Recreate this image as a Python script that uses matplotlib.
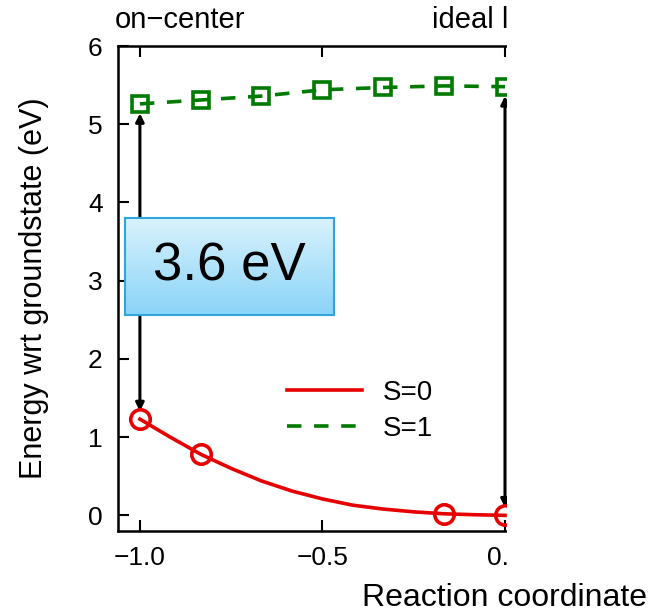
import matplotlib
matplotlib.use("Agg")
import matplotlib.pyplot as plt
import numpy as np
from matplotlib.patches import Rectangle

plt.rcParams['font.family'] = ['Liberation Sans', 'DejaVu Sans']

# S=0 curve (markers only at computed points)
s0_coord = [-1.0, -0.917, -0.833, -0.75, -0.667, -0.583, -0.5,
            -0.417, -0.333, -0.25, -0.167, -0.083, 0.0]
s0_energy = [1.23, 1.00, 0.78, 0.60, 0.44, 0.31, 0.21,
             0.13, 0.08, 0.045, 0.02, 0.008, 0.0]
s0_marked = [0, 2, 10, 12]
# S=1
s1_coord = [-1.0, -0.833, -0.667, -0.5, -0.333, -0.167, 0.0]
s1_energy = [5.26, 5.31, 5.36, 5.44, 5.47, 5.49, 5.48]

# vertical excitation arrows: (x, low, high)
arrows = [(-1.0, 1.23, 5.26), (0.0, 0.0, 5.48)]

W, H = 652, 613
fig = plt.figure(figsize=(W / 100, H / 100), dpi=100)
ax = fig.add_axes([118 / W, (H - 531) / H, 774 / W, 485 / H])

for x, lo, hi in arrows:
    ax.annotate('', xy=(x, hi - 0.12), xytext=(x, lo + 0.1),
                arrowprops=dict(arrowstyle='<|-|>', color='black', lw=2.2,
                                mutation_scale=12, shrinkA=0, shrinkB=0),
                zorder=2)

red = '#e60000'
green = '#007a00'
l0, = ax.plot(s0_coord, s0_energy, '-', color=red, lw=2.6, label='S=0', zorder=3)
ax.plot([s0_coord[i] for i in s0_marked], [s0_energy[i] for i in s0_marked], 'o',
        ms=14, mfc='none', mec=red, mew=2.6, zorder=4)
l1, = ax.plot(s1_coord, s1_energy, '--', color=green, lw=2.6, dashes=(4, 3.5),
              marker='s', ms=11, mfc='none', mec=green, mew=2.6, label='S=1', zorder=4)

ax.set_xlim(-1.06, 1.06)
ax.set_ylim(-0.2, 6)
ax.set_xticks([-1.0, -0.5, 0.0])
ax.set_xticklabels(['\u22121.0', '\u22120.5', '0.0'])
ax.set_yticks(range(0, 7))
ax.tick_params(direction='in', length=8, width=1.5, top=True, right=True,
               labelsize=19, pad=11)
for sp in ax.spines.values():
    sp.set_linewidth(1.8)

ax.set_ylabel('Energy wrt groundstate (eV)', fontsize=22, labelpad=28)

leg = ax.legend(handles=[l0, l1],
                loc='upper left', bbox_to_anchor=(262 / W, (H - 355) / H),
                bbox_transform=fig.transFigure, frameon=False, fontsize=20,
                handlelength=2.7, handletextpad=0.75, labelspacing=0.35)
leg.legend_handles[1].set_marker('')

fig.text(115 / W, (H - 20) / H, 'on\u2212center', fontsize=21, va='center', ha='left')
fig.text(432 / W, (H - 20) / H, 'ideal lattice', fontsize=21, va='center', ha='left')

# the picture is cut off on the right
fig.patches.append(Rectangle((507 / W, (H - 572) / H), 1, 1, transform=fig.transFigure,
                             facecolor='white', edgecolor='none', zorder=10))

fig.text(505 / W, (H - 598) / H, 'Reaction coordinate', fontsize=23,
         ha='center', va='center', zorder=11)

# 3.6 eV label box with gradient
bx = fig.add_axes([125 / W, (H - 315) / H, 209 / W, 97 / H], zorder=5)
grad = np.linspace(0, 1, 100).reshape(-1, 1)
top_c = np.array([0.85, 0.95, 0.99])
bot_c = np.array([0.54, 0.83, 0.97])
img = top_c[None, None, :] * (1 - grad[:, :, None]) + bot_c[None, None, :] * grad[:, :, None]
bx.imshow(img, aspect='auto', extent=[0, 1, 0, 1])
bx.set_xticks([])
bx.set_yticks([])
for sp in bx.spines.values():
    sp.set_color('#2ea6dc')
    sp.set_linewidth(1.5)
bx.text(0.5, 0.5, '3.6 eV', fontsize=38, ha='center', va='center',
        transform=bx.transAxes)

fig.savefig('out.png', dpi=100)
